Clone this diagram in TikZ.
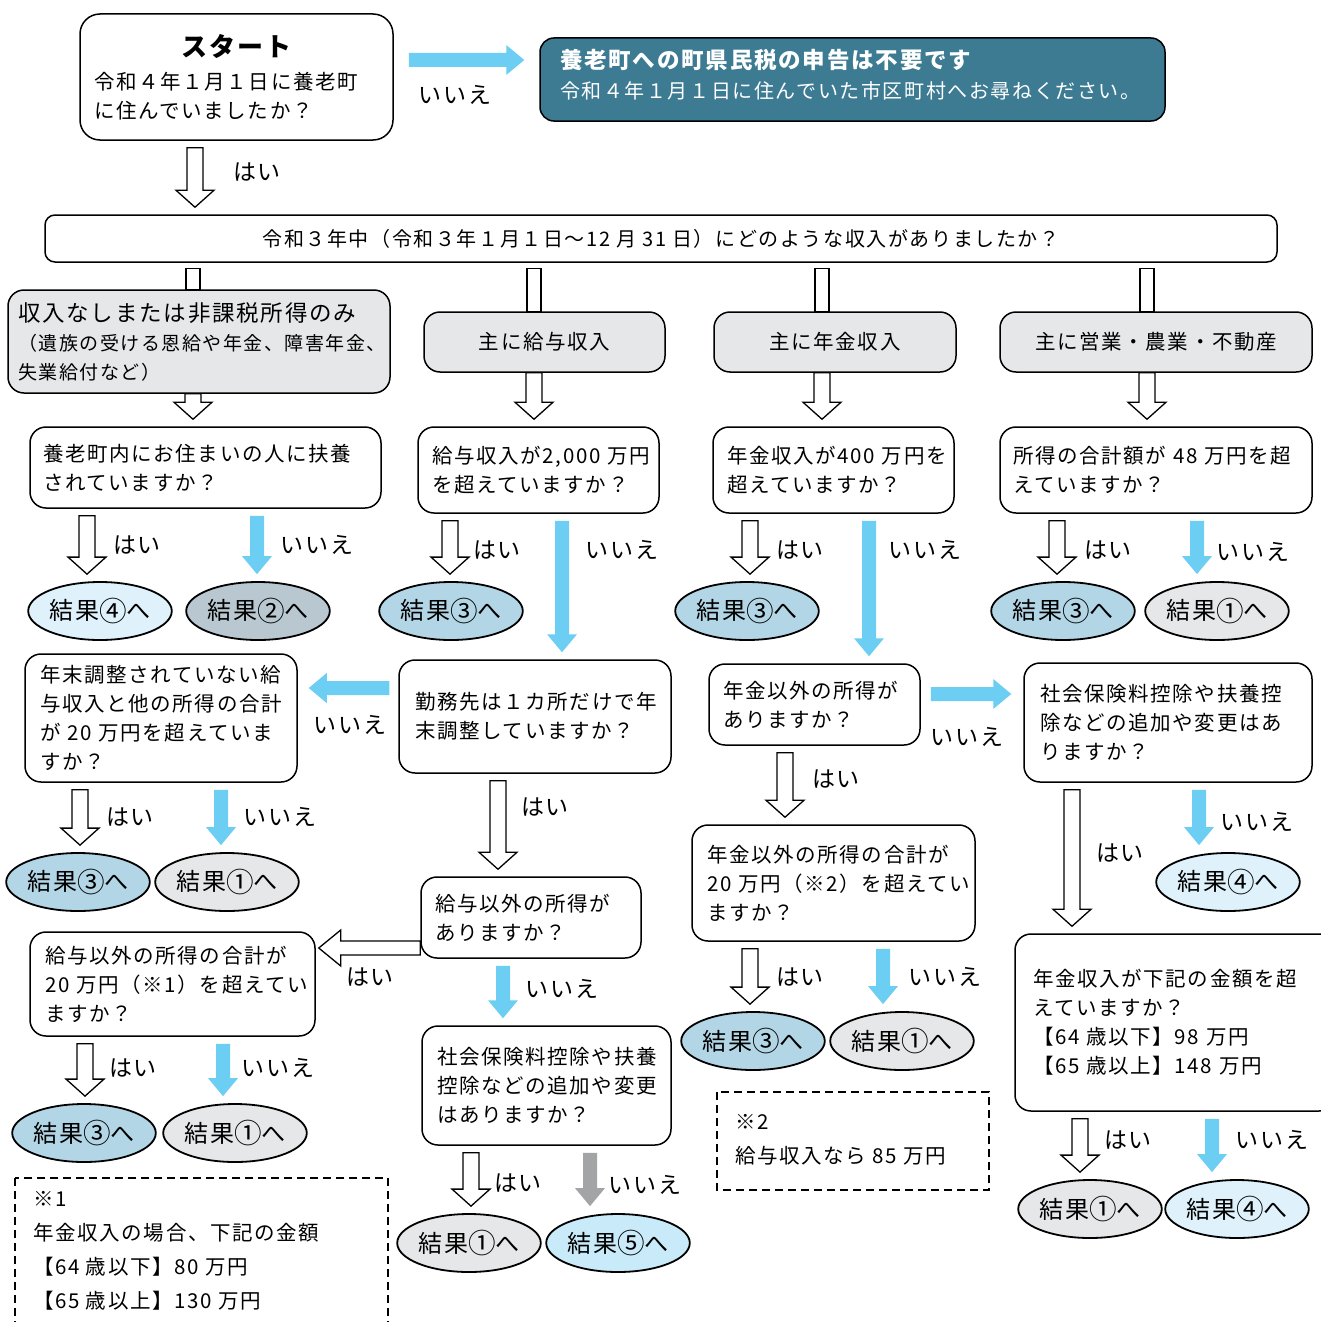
\documentclass[tikz,border=0pt]{standalone}
\usepackage{graphicx}
\usepackage{fontspec}
\setmainfont{Noto Sans CJK JP}[LetterSpace=8]
\usetikzlibrary{calc,shapes.geometric}
\definecolor{arrowblue}{HTML}{6CCEF2}
\definecolor{arrowgray}{HTML}{A3A4A6}
\definecolor{tealbox}{HTML}{3D7B93}
\definecolor{boxgray}{HTML}{E6E7E8}
\definecolor{resA}{HTML}{E6E7E8}
\definecolor{resB}{HTML}{B9C8D0}
\definecolor{resC}{HTML}{B3D6E6}
\definecolor{resD}{HTML}{DFF2FB}
\definecolor{resE}{HTML}{C9EBF9}
\newcommand\myqf{\fontsize{20.5}{29}\selectfont}
\newcommand\myrf{\fontsize{24}{28}\selectfont}
\newcommand\mylf{\fontsize{23}{28}\selectfont}
\newcommand\mycd[1]{\raisebox{-1.5pt}{\scalebox{1.15}{#1}}}
\tikzset{
  qbox/.style={draw, line width=1.5, rounded corners=16, fill=white, align=left, inner ysep=0, font=\myqf},
  catbox/.style={qbox, fill=boxgray},
  res/.style={ellipse, draw, line width=1.8, minimum width=140, minimum height=58, inner sep=0, font=\myrf},
  lbl/.style={inner sep=0, font=\mylf},
  hollowA/.style={draw, line width=1.3, fill=white},
  notebox/.style={draw, line width=1.5, dash pattern=on 8pt off 5pt},
  notetext/.style={inner sep=0, align=left, font=\fontsize{20.5}{34}\selectfont}
}
% hollow down arrow: [start gap] x, from node, to node
\newcommand\hdn[4][7]{\draw[hollowA] let \p1=(#3.south), \p2=(#4.north) in
 ({#2pt-8pt},{\y1-#1pt}) -- ({#2pt+8pt},{\y1-#1pt}) -- ({#2pt+8pt},{\y2+24pt}) -- ({#2pt+19pt},{\y2+24pt}) -- ({#2pt},{\y2+7pt}) -- ({#2pt-19pt},{\y2+24pt}) -- ({#2pt-8pt},{\y2+24pt}) -- cycle;}
% hollow connector without head
\newcommand\hcon[3]{\draw[hollowA] let \p1=(#2.south), \p2=(#3.north) in
 ({#1pt-7pt},{\y1-6pt}) rectangle ({#1pt+7pt},{\y2});}
% filled down arrow
\newcommand\bdn[4][arrowblue]{\fill[#1] let \p1=(#3.south), \p2=(#4.north) in
 ({#2pt-7pt},{\y1-7pt}) -- ({#2pt+7pt},{\y1-7pt}) -- ({#2pt+7pt},{\y2+25pt}) -- ({#2pt+15pt},{\y2+25pt}) -- ({#2pt},{\y2+7pt}) -- ({#2pt-15pt},{\y2+25pt}) -- ({#2pt-7pt},{\y2+25pt}) -- cycle;}
% filled right arrow: y, from, to, gap1, gap2
\newcommand\brt[5]{\fill[arrowblue] let \p1=(#2.east), \p2=(#3.west) in
 ({\x1+#4pt},{-#1pt+7pt}) -- ({\x2-#5pt-18pt},{-#1pt+7pt}) -- ({\x2-#5pt-18pt},{-#1pt+15pt}) -- ({\x2-#5pt},{-#1pt}) -- ({\x2-#5pt-18pt},{-#1pt-15pt}) -- ({\x2-#5pt-18pt},{-#1pt-7pt}) -- ({\x1+#4pt},{-#1pt-7pt}) -- cycle;}
% filled left arrow
\newcommand\blt[5]{\fill[arrowblue] let \p1=(#2.west), \p2=(#3.east) in
 ({\x1-#4pt},{-#1pt+7pt}) -- ({\x2+#5pt+18pt},{-#1pt+7pt}) -- ({\x2+#5pt+18pt},{-#1pt+15pt}) -- ({\x2+#5pt},{-#1pt}) -- ({\x2+#5pt+18pt},{-#1pt-15pt}) -- ({\x2+#5pt+18pt},{-#1pt-7pt}) -- ({\x1-#4pt},{-#1pt-7pt}) -- cycle;}
% hollow left arrow
\newcommand\hlt[3]{\draw[hollowA] let \p1=(#2.west), \p2=(#3.east) in
 ({\x1},{-#1pt+7pt}) -- ({\x2+25pt},{-#1pt+7pt}) -- ({\x2+25pt},{-#1pt+18pt}) -- ({\x2+3pt},{-#1pt}) -- ({\x2+25pt},{-#1pt-18pt}) -- ({\x2+25pt},{-#1pt-7pt}) -- ({\x1},{-#1pt-7pt}) -- cycle;}
\begin{document}
\begin{tikzpicture}[x=1pt,y=-1pt]
\useasboundingbox (0,0) rectangle (1321,1322);
\clip (0,0) rectangle (1321,1322);
\fill[white] (0,0) rectangle (1321,1322);

% top row
\node[qbox, text width=285, inner xsep=14, minimum height=126, rounded corners=20] (start) at (236.5,77)
 {\makebox[285pt][c]{\fontsize{26}{30}\selectfont\bfseries スタート}\\[4pt]令和４年１月１日に養老町\\に住んでいましたか？};
\node[qbox, fill=tealbox, text=white, text width=585, inner xsep=20, minimum height=83, rounded corners=14, font=\fontsize{20}{30}\selectfont] (teal) at (852.5,79.5)
 {{\fontsize{22.5}{30}\selectfont\bfseries 養老町への町県民税の申告は不要です}\\令和４年１月１日に住んでいた市区町村へお尋ねください。\par\vspace{9pt}};
\node[qbox, align=center, minimum width=1232, minimum height=47, rounded corners=10, font=\fontsize{20}{24}\selectfont] (big) at (661,238.5)
 {令和３年中（令和３年１月１日～12 月 31 日）にどのような収入がありましたか？};

% categories
\node[catbox, text width=362, inner xsep=10, minimum height=103, font=\fontsize{19}{29}\selectfont] (cat1) at (199,341.5)
 {{\fontsize{22.5}{29}\selectfont 収入なしまたは非課税所得のみ}\\（遺族の受ける恩給や年金、障害年金、\\失業給付など）};
\node[catbox, align=center, minimum width=241, minimum height=60] (cat2) at (544.5,342) {主に給与収入};
\node[catbox, align=center, minimum width=242, minimum height=60] (cat3) at (835,342) {主に年金収入};
\node[catbox, align=center, minimum width=312, minimum height=60] (cat4) at (1156,342) {主に営業・農業・不動産};

% question row 1
\node[qbox, text width=325, inner xsep=13, minimum height=81] (q1a) at (205.5,467.5) {養老町内にお住まいの人に扶養\\されていますか？};
\node[qbox, text width=213, inner xsep=14, minimum height=86] (q2a) at (538.5,470) {給与収入が2,000~万円\\を超えていますか？};
\node[qbox, text width=213, inner xsep=14, minimum height=86] (q3a) at (833.5,470) {年金収入が400~万円を\\超えていますか？};
\node[qbox, text width=286, inner xsep=13, minimum height=86] (q4a) at (1156,470) {所得の合計額が~48~万円を超\\えていますか？};

% results row 1
\node[res, fill=resD] (r1) at (100,611) {結果\mycd{④}へ};
\node[res, fill=resB, minimum width=136] (r2) at (258,611) {結果\mycd{②}へ};
\node[res, fill=resC] (r3) at (451,611) {結果\mycd{③}へ};
\node[res, fill=resC] (r4) at (747,611) {結果\mycd{③}へ};
\node[res, fill=resC] (r5) at (1063,611) {結果\mycd{③}へ};
\node[res, fill=resA] (r6) at (1217,611) {結果\mycd{①}へ};

% row 2
\node[qbox, text width=240, inner xsep=16, minimum height=113] (q2b) at (535,716.5) {勤務先は１カ所だけで年\\末調整していますか？};
\node[qbox, text width=242, inner xsep=15, minimum height=128] (q1b) at (161,718) {年末調整されていない給\\与収入と他の所得の合計\\が~20~万円を超えていま\\すか？};
\node[qbox, text width=183, inner xsep=14, minimum height=81] (q3b) at (814.5,704.5) {年金以外の所得が\\ありますか？};
\node[qbox, text width=256, inner xsep=16, minimum height=119] (q4b) at (1168,722.5) {社会保険料控除や扶養控\\除などの追加や変更はあ\\りますか？};

\node[res, fill=resC] (r7) at (78,882) {結果\mycd{③}へ};
\node[res, fill=resA] (r8) at (227,882) {結果\mycd{①}へ};
\node[res, fill=resD] (r15) at (1228,882) {結果\mycd{④}へ};

\node[qbox, text width=192, inner xsep=14, minimum height=81] (q2c) at (531,917.5) {給与以外の所得が\\ありますか？};
\node[qbox, text width=255, inner xsep=15, minimum height=104] (q1c) at (172.5,984) {給与以外の所得の合計が\\20~万円（※1）を超えてい\\ますか？};
\node[qbox, text width=253, inner xsep=15, minimum height=116] (q3c) at (833.5,883) {年金以外の所得の合計が\\20~万円（※2）を超えてい\\ますか？};
\node[qbox, text width=284, inner xsep=18, minimum height=177] (q4c) at (1175,1022.5) {年金収入が下記の金額を超\\えていますか？\\【64~歳以下】98~万円\\【65~歳以上】148~万円};
\node[qbox, text width=219, inner xsep=15, minimum height=119] (q2d) at (546.5,1085.5) {社会保険料控除や扶養\\控除などの追加や変更\\はありますか？};

\node[res, fill=resC] (r9) at (84,1133) {結果\mycd{③}へ};
\node[res, fill=resA] (r10) at (235,1133) {結果\mycd{①}へ};
\node[res, fill=resC] (r13) at (753,1041) {結果\mycd{③}へ};
\node[res, fill=resA] (r14) at (902,1041) {結果\mycd{①}へ};
\node[res, fill=resA] (r16) at (1090,1209) {結果\mycd{①}へ};
\node[res, fill=resD] (r17) at (1237,1209) {結果\mycd{④}へ};
\node[res, fill=resA] (r11) at (469,1243) {結果\mycd{①}へ};
\node[res, fill=resE] (r12) at (618,1243) {結果\mycd{⑤}へ};

% notes
\draw[notebox] (15,1178) rectangle (388,1340);
\node[notetext, anchor=north west] (n1) at (33,1191) {※1\\年金収入の場合、下記の金額\\【64 歳以下】80 万円\\【65 歳以上】130 万円};
\draw[notebox] (717,1092) rectangle (989,1190);
\node[notetext, anchor=north west] (n2) at (735,1114) {※2\\給与収入なら 85 万円};

% connectors
\brt{60}{start}{teal}{15}{15}
\hdn{195}{start}{big}
\hcon{193}{big}{cat1}
\hcon{534}{big}{cat2}
\hcon{822}{big}{cat3}
\hcon{1147}{big}{cat4}
\hdn[0]{193}{cat1}{q1a}
\hdn[0]{534}{cat2}{q2a}
\hdn[0]{822}{cat3}{q3a}
\hdn[0]{1147}{cat4}{q4a}

\hdn{87}{q1a}{r1}
\bdn{257}{q1a}{r2}
\hdn{450}{q2a}{r3}
\bdn{562}{q2a}{q2b}
\hdn{750}{q3a}{r4}
\bdn{869}{q3a}{q3b}
\hdn{1057}{q4a}{r5}
\bdn{1197}{q4a}{r6}

\blt{688}{q2b}{q1b}{9}{11}
\hdn{80}{q1b}{r7}
\bdn{221}{q1b}{r8}
\hdn{498}{q2b}{q2c}
\hlt{948}{q2c}{q1c}
\hdn{85}{q1c}{r9}
\bdn{223}{q1c}{r10}
\bdn{503}{q2c}{q2d}
\hdn{471}{q2d}{r11}
\bdn[arrowgray]{590}{q2d}{r12}

\brt{694}{q3b}{q4b}{10}{12}
\hdn{785}{q3b}{q3c}
\hdn{750}{q3c}{r13}
\bdn{883}{q3c}{r14}
\hdn{1072}{q4b}{q4c}
\bdn{1199}{q4b}{r15}
\hdn{1080}{q4c}{r16}
\bdn{1212}{q4c}{r17}

% labels
\node[lbl] (l1) at (455,95) {いいえ};
\node[lbl] (l2) at (257,172) {はい};
\node[lbl] (l3) at (137,545) {はい};
\node[lbl] (l4) at (317,545) {いいえ};
\node[lbl] (l5) at (497,550) {はい};
\node[lbl] (l6) at (622,550) {いいえ};
\node[lbl] (l7) at (800,550) {はい};
\node[lbl] (l8) at (925,550) {いいえ};
\node[lbl] (l9) at (1108,550) {はい};
\node[lbl] (l10) at (1253,552) {いいえ};
\node[lbl] (l11) at (350,725) {いいえ};
\node[lbl] (l12) at (130,817) {はい};
\node[lbl] (l13) at (280,817) {いいえ};
\node[lbl] (l14) at (545,807) {はい};
\node[lbl] (l15) at (370,977) {はい};
\node[lbl] (l16) at (133,1068) {はい};
\node[lbl] (l17) at (278,1068) {いいえ};
\node[lbl] (l18) at (562,989) {いいえ};
\node[lbl] (l19) at (518,1183) {はい};
\node[lbl] (l20) at (645,1185) {いいえ};
\node[lbl] (l21) at (967,737) {いいえ};
\node[lbl] (l22) at (836,779) {はい};
\node[lbl] (l23) at (800,977) {はい};
\node[lbl] (l24) at (945,977) {いいえ};
\node[lbl] (l25) at (1120,853) {はい};
\node[lbl] (l26) at (1257,822) {いいえ};
\node[lbl] (l27) at (1128,1140) {はい};
\node[lbl] (l28) at (1272,1140) {いいえ};
\end{tikzpicture}
\end{document}
